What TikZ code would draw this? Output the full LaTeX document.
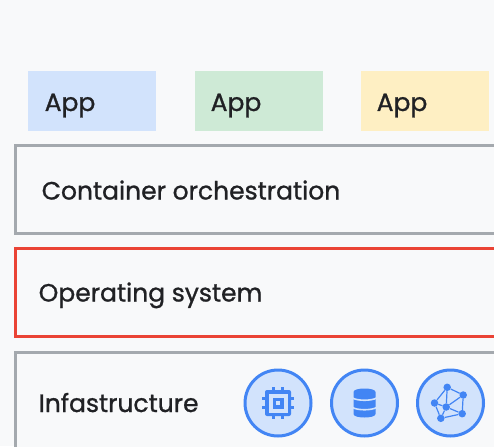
\documentclass[tikz,border=0pt]{standalone}
\usepackage{fontspec}
\setmainfont{Poppins}[FakeBold=1.0]
\definecolor{bgc}{HTML}{F8F9FA}
\definecolor{appb}{HTML}{D2E3FC}
\definecolor{appg}{HTML}{CEEAD6}
\definecolor{appy}{HTML}{FEEFC3}
\definecolor{greyl}{HTML}{A4A9AE}
\definecolor{redl}{HTML}{EA4335}
\definecolor{bluel}{HTML}{4285F4}
\definecolor{txt}{HTML}{202124}
\tikzset{
  appbox/.style={minimum width=128pt,minimum height=60pt,anchor=north west,inner sep=0pt},
  applabel/.style={text=txt,font=\fontsize{25}{30}\selectfont,anchor=base west,inner sep=0pt},
  layerbox/.style={draw=#1,line width=3pt,fill=bgc},
  layerlabel/.style={text=txt,font=\fontsize{25}{30}\selectfont,anchor=base west,inner sep=0pt},
  iconc/.style={circle,draw=bluel,fill=appb,line width=3pt,minimum size=66pt,inner sep=0pt},
  icond/.style={fill=bluel,circle,inner sep=0pt,minimum size=#1},
  iconl/.style={draw=bluel,line width=1.2pt},
}
\begin{document}
\begin{tikzpicture}[x=1pt,y=-1pt]
\useasboundingbox (0,0) rectangle (494,446);
\clip (0,0) rectangle (494,446);
\fill[bgc] (0,0) rectangle (494,446);
\node[appbox,fill=appb] (a1) at (28,71) {};
\node[appbox,fill=appg] (a2) at (195,71) {};
\node[appbox,fill=appy] (a3) at (361,71) {};
\node[applabel] (t1) at (44.5,111) {App};
\node[applabel] (t2) at (210.5,111) {App};
\node[applabel] (t3) at (376.5,111) {App};
\draw[layerbox=greyl] (15,145.8) rectangle (520,233.7);
\draw[layerbox=redl] (15,248.3) rectangle (520,336.2);
\draw[layerbox=greyl] (15,352.5) rectangle (520,470);
\node[layerlabel] (l1) at (41.5,199.5) {Container orchestration};
\node[layerlabel] (l2) at (38.5,301.5) {Operating system};
\node[layerlabel] (l3) at (38.5,412) {Infastructure};
\node[iconc] (c1) at (278,403) {};
\node[iconc] (c2) at (364.5,403) {};
\node[iconc] (c3) at (450.5,403) {};
% chip
\begin{scope}[shift={(c1.center)}]
\foreach \p in {-4.5,4.5}{
  \fill[bluel] (\p-1.4,-16) rectangle (\p+1.4,16);
  \fill[bluel] (-16,\p-1.4) rectangle (16,\p+1.4);
}
\fill[bluel,rounded corners=2pt] (-13,-13) rectangle (13,13);
\fill[appb] (-9.5,-9.5) rectangle (9.5,9.5);
\fill[bluel] (-5.5,-5.5) rectangle (5.5,5.5);
\fill[appb] (-1.8,-1.8) rectangle (1.8,1.8);
\end{scope}
% database
\begin{scope}[shift={(c2.center)}]
\fill[bluel] (-11,-11) -- (-11,11) .. controls (-11,13.5) and (-5,14.5) .. (0,14.5) .. controls (5,14.5) and (11,13.5) .. (11,11) -- (11,-11) .. controls (11,-13.5) and (5,-14.5) .. (0,-14.5) .. controls (-5,-14.5) and (-11,-13.5) .. (-11,-11) -- cycle;
\draw[appb,line width=1.6pt] (-12,-5) .. controls (-7,-2) and (7,-2) .. (12,-5);
\draw[appb,line width=1.6pt] (-12,4.5) .. controls (-7,7.5) and (7,7.5) .. (12,4.5);
\end{scope}
% network
\begin{scope}[shift={(c3.center)}]
\node[icond=7.5pt] (n1) at (-3.3,-15.7) {};
\node[icond=7.5pt] (n2) at (12.7,-8) {};
\node[icond=7.5pt] (n3) at (-16,0) {};
\node[icond=7.5pt] (n4) at (-4.3,4) {};
\node[icond=7.5pt] (n5) at (11.7,10.7) {};
\node[icond=7.5pt] (n6) at (-9.7,15.3) {};
\foreach \a/\b in {n1/n2,n1/n3,n1/n4,n2/n4,n2/n5,n3/n4,n3/n6,n4/n5,n4/n6,n5/n6}
  \draw[iconl] (\a) -- (\b);
\end{scope}
\end{tikzpicture}
\end{document}
